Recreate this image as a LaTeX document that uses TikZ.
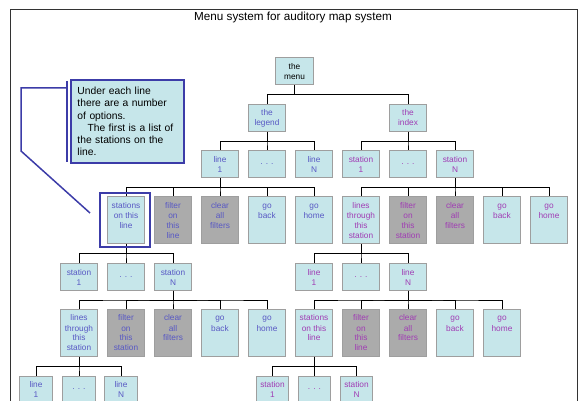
\documentclass[tikz,border=0pt]{standalone}
\usepackage{fontspec}
\setmainfont{Liberation Sans}
\usetikzlibrary{calc}

\definecolor{boxfill}{RGB}{198,230,234}
\definecolor{greyfill}{RGB}{171,171,171}
\definecolor{boxline}{RGB}{158,158,158}
\definecolor{lgdtext}{RGB}{88,88,196}
\definecolor{idxtext}{RGB}{160,60,180}
\definecolor{noteline}{RGB}{60,60,168}

% text of the tall boxes sits at the top
\newcommand{\toptext}[1]{\parbox[t][38pt][t]{36pt}{\centering\strut #1}}

\begin{document}
\begin{tikzpicture}[x=1pt,y=-1pt]
	\tikzstyle{opt}=[rectangle,draw=boxline,line width=1pt,fill=boxfill,minimum width=37.5pt,minimum height=27pt,inner sep=0pt,align=center,font=\fontsize{8.3}{10}\selectfont]
	\tikzstyle{tall}=[opt,minimum height=47pt]
	\tikzstyle{greybox}=[fill=greyfill]
	\tikzstyle{narrow}=[minimum width=32.5pt]
	\tikzstyle{lgd}=[text=lgdtext]
	\tikzstyle{idx}=[text=idxtext]
	\tikzstyle{edge}=[draw=black,line width=0.8pt,to path={|- ($(\tikztostart)!0.5!(\tikztotarget)$) -| (\tikztotarget)}]
	\tikzstyle{callout}=[draw=noteline,line width=1.5pt]

	\useasboundingbox (0,0) rectangle (582,401);
	\draw[line width=0.8pt,black!80] (10,9) rectangle (577,412);
	\node (title) at (293,17) {\fontsize{11.7}{14}\selectfont Menu system for auditory map system};

	% top of the tree
	\node [opt] (menu) at (294.5,71.5) {the\\menu};
	\node [opt,lgd] (legend) at (267,118) {the\\legend};
	\node [opt,idx] (index) at (408,118) {the\\index};

	\node [opt,lgd] (line1) at (220,164.5) {line\\1};
	\node [opt,lgd] (lineDots) at (267,164.5) {. . .};
	\node [opt,lgd] (lineN) at (314,164.5) {line\\N};
	\node [opt,idx] (stat1) at (361,164.5) {station\\1};
	\node [opt,idx] (statDots) at (408,164.5) {. . .};
	\node [opt,idx] (statN) at (455,164.5) {station\\N};

	% options under a line (legend) and under a station (index)
	\node [tall,lgd] (onLine) at (126,220.5) {\toptext{stations\\on this\\line}};
	\node [tall,lgd,greybox] (filtLine) at (173,220.5) {\toptext{filter\\on\\this\\line}};
	\node [tall,lgd,greybox] (clearA) at (220,220.5) {\toptext{clear\\all\\filters}};
	\node [tall,lgd] (backA) at (267,220.5) {\toptext{go\\back}};
	\node [tall,lgd] (homeA) at (314,220.5) {\toptext{go\\home}};

	\node [tall,idx] (thruStat) at (361,220.5) {\toptext{lines\\through\\this\\station}};
	\node [tall,idx,greybox] (filtStat) at (408,220.5) {\toptext{filter\\on\\this\\station}};
	\node [tall,idx,greybox] (clearB) at (455,220.5) {\toptext{clear\\all\\filters}};
	\node [tall,idx] (backB) at (502,220.5) {\toptext{go\\back}};
	\node [tall,idx] (homeB) at (549,220.5) {\toptext{go\\home}};

	\node [opt,lgd] (lStat1) at (79,277) {station\\1};
	\node [opt,lgd] (lStatDots) at (126,277) {. . .};
	\node [opt,lgd] (lStatN) at (173,277) {station\\N};
	\node [opt,idx] (rLine1) at (314,277) {line\\1};
	\node [opt,idx] (rLineDots) at (361,277) {. . .};
	\node [opt,idx] (rLineN) at (408,277) {line\\N};

	\node [tall,lgd] (thruStat2) at (79,333) {\toptext{lines\\through\\this\\station}};
	\node [tall,lgd,greybox] (filtStat2) at (126,333) {\toptext{filter\\on\\this\\station}};
	\node [tall,lgd,greybox] (clearC) at (173,333) {\toptext{clear\\all\\filters}};
	\node [tall,lgd] (backC) at (220,333) {\toptext{go\\back}};
	\node [tall,lgd] (homeC) at (267,333) {\toptext{go\\home}};

	\node [tall,idx] (onLine2) at (314,333) {\toptext{stations\\on this\\line}};
	\node [tall,idx,greybox] (filtLine2) at (361,333) {\toptext{filter\\on\\this\\line}};
	\node [tall,idx,greybox] (clearD) at (408,333) {\toptext{clear\\all\\filters}};
	\node [tall,idx] (backD) at (455,333) {\toptext{go\\back}};
	\node [tall,idx] (homeD) at (502,333) {\toptext{go\\home}};

	\node [opt,narrow,lgd] (lLine1) at (36,389.5) {line\\1};
	\node [opt,narrow,lgd] (lLineDots) at (79,389.5) {. . .};
	\node [opt,narrow,lgd] (lLineN) at (121,389.5) {line\\N};
	\node [opt,narrow,idx] (rStat1) at (272.5,389.5) {station\\1};
	\node [opt,narrow,idx] (rStatDots) at (314.5,389.5) {. . .};
	\node [opt,narrow,idx] (rStatN) at (356.5,389.5) {station\\N};

	\path[edge] (menu.south) to (legend.north);
	\path[edge] (menu.south) to (index.north);
	\path[edge] (legend.south) to (line1.north);
	\path[edge] (legend.south) to (lineDots.north);
	\path[edge] (legend.south) to (lineN.north);
	\path[edge] (index.south) to (stat1.north);
	\path[edge] (index.south) to (statDots.north);
	\path[edge] (index.south) to (statN.north);

	\path[edge] (line1.south) to (onLine.north);
	\path[edge] (line1.south) to (filtLine.north);
	\path[edge] (line1.south) to (clearA.north);
	\path[edge] (line1.south) to (backA.north);
	\path[edge] (line1.south) to (homeA.north);
	\path[edge] (statN.south) to (thruStat.north);
	\path[edge] (statN.south) to (filtStat.north);
	\path[edge] (statN.south) to (clearB.north);
	\path[edge] (statN.south) to (backB.north);
	\path[edge] (statN.south) to (homeB.north);

	\path[edge] (onLine.south) to (lStat1.north);
	\path[edge] (onLine.south) to (lStatDots.north);
	\path[edge] (onLine.south) to (lStatN.north);
	\path[edge] (thruStat.south) to (rLine1.north);
	\path[edge] (thruStat.south) to (rLineDots.north);
	\path[edge] (thruStat.south) to (rLineN.north);

	\path[edge] (lStatN.south) to (thruStat2.north);
	\path[edge] (lStatN.south) to (filtStat2.north);
	\path[edge] (lStatN.south) to (clearC.north);
	\path[edge] (lStatN.south) to (backC.north);
	\path[edge] (lStatN.south) to (homeC.north);
	\path[edge] (rLineN.south) to (onLine2.north);
	\path[edge] (rLineN.south) to (filtLine2.north);
	\path[edge] (rLineN.south) to (clearD.north);
	\path[edge] (rLineN.south) to (backD.north);
	\path[edge] (rLineN.south) to (homeD.north);

	\path[edge] (thruStat2.south) to (lLine1.north);
	\path[edge] (thruStat2.south) to (lLineDots.north);
	\path[edge] (thruStat2.south) to (lLineN.north);
	\path[edge] (onLine2.south) to (rStat1.north);
	\path[edge] (onLine2.south) to (rStatDots.north);
	\path[edge] (onLine2.south) to (rStatN.north);

	% the note and its pointer
	\node [callout,fill=boxfill,minimum width=113pt,minimum height=83pt,text width=100pt,inner xsep=6.5pt,align=left,font=\fontsize{10.3}{12.3}\selectfont] (note) at (127.5,121.5) {Under each line\\there are a number\\of options.\\\hspace*{10pt}The first is a list of\\the stations on the\\line.};
	\coordinate (barTop) at (67,81);
	\coordinate (barBot) at (67,162);
	\coordinate (lead) at (67,88);
	\coordinate (tip) at (90,213);
	\draw [callout] (barTop) -- (barBot);
	\draw [callout] (lead) -- (21,88) -- (21,151) -- (tip);
	\node [draw=noteline,line width=1.2pt,minimum width=50pt,minimum height=54pt] (hilite) at (125,220) {};
\end{tikzpicture}
\end{document}
